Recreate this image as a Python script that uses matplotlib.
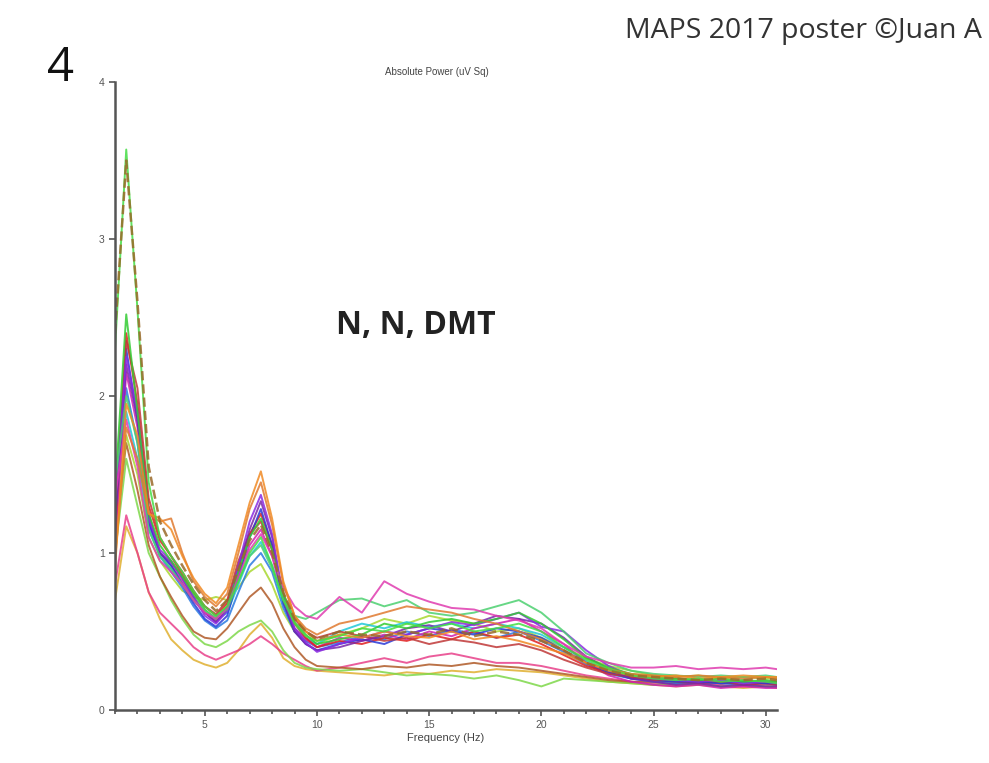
import matplotlib
matplotlib.use("Agg")
import matplotlib.pyplot as plt
from matplotlib.ticker import MultipleLocator

freq = [1, 1.5, 2, 2.5, 3, 3.5, 4, 4.5, 5, 5.5, 6, 6.5, 7, 7.5, 8, 8.5, 9, 9.5, 10,
        11, 12, 13, 14, 15, 16, 17, 18, 19, 20, 21, 22, 23, 24, 25, 26, 27, 28, 29, 30, 30.5]

s1 = [2.30, 3.57, 2.55, 1.45, 1.10, 0.98, 0.88, 0.76, 0.66, 0.60, 0.66, 0.82, 1.00, 1.10, 0.92, 0.70, 0.55, 0.47, 0.44,
      0.47, 0.52, 0.50, 0.55, 0.52, 0.55, 0.50, 0.52, 0.55, 0.50, 0.40, 0.32, 0.26, 0.22, 0.20, 0.19, 0.20, 0.18, 0.19, 0.18, 0.17]
s2 = [2.40, 3.50, 2.60, 1.55, 1.20, 1.05, 0.92, 0.80, 0.70, 0.63, 0.70, 0.90, 1.08, 1.18, 1.00, 0.75, 0.58, 0.50, 0.45,
      0.50, 0.48, 0.47, 0.50, 0.48, 0.52, 0.47, 0.50, 0.48, 0.44, 0.38, 0.30, 0.25, 0.22, 0.21, 0.20, 0.19, 0.20, 0.19, 0.20, 0.19]
s3 = [1.40, 2.52, 1.90, 1.25, 1.05, 0.95, 0.85, 0.74, 0.64, 0.58, 0.66, 0.88, 1.10, 1.22, 1.02, 0.74, 0.56, 0.48, 0.42,
      0.45, 0.48, 0.55, 0.52, 0.56, 0.58, 0.55, 0.58, 0.62, 0.55, 0.45, 0.33, 0.27, 0.23, 0.21, 0.20, 0.19, 0.20, 0.18, 0.19, 0.18]
s4 = [1.10, 2.40, 1.95, 1.30, 1.08, 0.98, 0.86, 0.75, 0.66, 0.60, 0.68, 0.92, 1.12, 1.25, 1.05, 0.72, 0.55, 0.46, 0.40,
      0.44, 0.42, 0.46, 0.44, 0.48, 0.45, 0.50, 0.46, 0.48, 0.42, 0.35, 0.28, 0.24, 0.21, 0.19, 0.18, 0.17, 0.18, 0.16, 0.17, 0.16]
s5 = [1.20, 2.30, 1.85, 1.20, 1.00, 0.92, 0.80, 0.68, 0.58, 0.53, 0.60, 0.85, 1.10, 1.28, 1.05, 0.68, 0.50, 0.42, 0.38,
      0.42, 0.45, 0.42, 0.48, 0.52, 0.50, 0.48, 0.52, 0.50, 0.46, 0.38, 0.30, 0.24, 0.20, 0.19, 0.18, 0.18, 0.17, 0.18, 0.17, 0.17]
s6 = [1.30, 2.25, 1.90, 1.22, 1.02, 0.95, 0.84, 0.72, 0.60, 0.55, 0.63, 0.92, 1.20, 1.37, 1.12, 0.72, 0.52, 0.43, 0.37,
      0.42, 0.46, 0.50, 0.48, 0.52, 0.56, 0.54, 0.58, 0.62, 0.53, 0.50, 0.38, 0.28, 0.22, 0.20, 0.19, 0.18, 0.19, 0.17, 0.18, 0.17]
s7 = [1.00, 2.15, 1.80, 1.20, 1.00, 0.92, 0.82, 0.70, 0.62, 0.56, 0.64, 0.86, 1.05, 1.15, 0.98, 0.70, 0.52, 0.45, 0.40,
      0.46, 0.44, 0.48, 0.45, 0.50, 0.47, 0.52, 0.55, 0.58, 0.50, 0.42, 0.30, 0.22, 0.18, 0.16, 0.15, 0.16, 0.14, 0.15, 0.14, 0.14]
s8 = [0.90, 1.95, 1.75, 1.25, 1.22, 1.15, 0.98, 0.84, 0.74, 0.68, 0.78, 1.05, 1.32, 1.52, 1.22, 0.82, 0.60, 0.50, 0.44,
      0.48, 0.46, 0.50, 0.47, 0.46, 0.50, 0.45, 0.47, 0.44, 0.40, 0.36, 0.30, 0.25, 0.22, 0.21, 0.22, 0.20, 0.21, 0.22, 0.21, 0.21]
s9 = [1.25, 1.90, 1.60, 1.15, 0.98, 0.90, 0.80, 0.70, 0.62, 0.57, 0.62, 0.80, 0.98, 1.07, 0.92, 0.68, 0.52, 0.46, 0.42,
      0.50, 0.55, 0.52, 0.56, 0.53, 0.55, 0.52, 0.55, 0.52, 0.48, 0.40, 0.31, 0.25, 0.21, 0.19, 0.18, 0.19, 0.18, 0.17, 0.18, 0.17]
s10 = [1.15, 2.05, 1.70, 1.18, 0.98, 0.88, 0.78, 0.66, 0.57, 0.52, 0.57, 0.75, 0.92, 1.00, 0.88, 0.65, 0.50, 0.44, 0.40,
       0.43, 0.47, 0.45, 0.50, 0.47, 0.51, 0.49, 0.46, 0.50, 0.44, 0.37, 0.29, 0.23, 0.20, 0.18, 0.17, 0.18, 0.17, 0.16, 0.17, 0.16]
s11 = [1.05, 1.75, 1.50, 1.10, 0.95, 0.85, 0.76, 0.72, 0.70, 0.72, 0.70, 0.78, 0.88, 0.93, 0.80, 0.62, 0.50, 0.44, 0.42,
       0.48, 0.52, 0.58, 0.55, 0.60, 0.57, 0.55, 0.50, 0.52, 0.46, 0.40, 0.33, 0.28, 0.25, 0.22, 0.21, 0.22, 0.20, 0.21, 0.20, 0.20]
s12 = [0.95, 1.80, 1.60, 1.25, 1.20, 1.22, 1.00, 0.82, 0.72, 0.66, 0.74, 1.00, 1.28, 1.45, 1.18, 0.80, 0.60, 0.52, 0.48,
       0.55, 0.58, 0.62, 0.66, 0.64, 0.62, 0.58, 0.55, 0.50, 0.45, 0.38, 0.30, 0.26, 0.23, 0.22, 0.21, 0.22, 0.21, 0.20, 0.21, 0.20]
s13 = [0.80, 1.24, 1.00, 0.75, 0.62, 0.55, 0.48, 0.40, 0.35, 0.32, 0.35, 0.38, 0.42, 0.47, 0.42, 0.36, 0.32, 0.28, 0.25,
       0.27, 0.30, 0.33, 0.30, 0.34, 0.36, 0.33, 0.30, 0.30, 0.28, 0.25, 0.22, 0.20, 0.18, 0.17, 0.16, 0.17, 0.16, 0.15, 0.16, 0.15]
s14 = [0.70, 1.17, 1.00, 0.75, 0.58, 0.45, 0.38, 0.32, 0.29, 0.27, 0.30, 0.38, 0.48, 0.55, 0.46, 0.33, 0.28, 0.26, 0.25,
       0.24, 0.23, 0.22, 0.24, 0.23, 0.25, 0.24, 0.26, 0.25, 0.24, 0.22, 0.20, 0.18, 0.17, 0.16, 0.15, 0.16, 0.15, 0.14, 0.15, 0.14]
s15 = [1.10, 1.70, 1.40, 1.05, 0.85, 0.72, 0.60, 0.50, 0.46, 0.45, 0.52, 0.62, 0.72, 0.78, 0.68, 0.52, 0.40, 0.32, 0.28,
       0.27, 0.26, 0.28, 0.27, 0.29, 0.28, 0.30, 0.28, 0.27, 0.25, 0.23, 0.21, 0.19, 0.18, 0.18, 0.17, 0.18, 0.17, 0.18, 0.17, 0.17]
s16 = [1.00, 1.60, 1.30, 1.00, 0.85, 0.70, 0.58, 0.48, 0.42, 0.40, 0.44, 0.50, 0.54, 0.57, 0.50, 0.38, 0.30, 0.27, 0.26,
       0.25, 0.26, 0.24, 0.22, 0.23, 0.22, 0.20, 0.22, 0.19, 0.15, 0.20, 0.19, 0.18, 0.17, 0.16, 0.17, 0.16, 0.15, 0.16, 0.15, 0.15]
s17 = [1.35, 1.85, 1.55, 1.10, 0.95, 0.88, 0.80, 0.70, 0.62, 0.58, 0.65, 0.85, 1.02, 1.12, 0.98, 0.78, 0.66, 0.60, 0.58,
       0.72, 0.62, 0.82, 0.74, 0.69, 0.65, 0.64, 0.60, 0.57, 0.52, 0.42, 0.34, 0.30, 0.27, 0.27, 0.28, 0.26, 0.27, 0.26, 0.27, 0.26]
s18 = [1.45, 2.00, 1.70, 1.15, 0.98, 0.90, 0.80, 0.70, 0.63, 0.59, 0.64, 0.82, 0.98, 1.05, 0.90, 0.70, 0.60, 0.58, 0.62,
       0.70, 0.71, 0.66, 0.70, 0.62, 0.60, 0.62, 0.66, 0.70, 0.62, 0.50, 0.36, 0.30, 0.25, 0.23, 0.22, 0.21, 0.22, 0.21, 0.22, 0.21]
s19 = [1.20, 2.20, 1.85, 1.25, 1.00, 0.94, 0.84, 0.72, 0.62, 0.56, 0.64, 0.90, 1.15, 1.33, 1.10, 0.70, 0.50, 0.42, 0.38,
       0.40, 0.44, 0.47, 0.52, 0.54, 0.50, 0.55, 0.60, 0.58, 0.55, 0.46, 0.34, 0.26, 0.20, 0.18, 0.16, 0.17, 0.15, 0.16, 0.15, 0.15]
s20 = [1.30, 2.35, 2.05, 1.35, 1.10, 0.98, 0.88, 0.76, 0.66, 0.61, 0.70, 0.95, 1.12, 1.20, 1.02, 0.74, 0.58, 0.50, 0.46,
       0.50, 0.47, 0.44, 0.46, 0.42, 0.45, 0.43, 0.40, 0.42, 0.38, 0.32, 0.27, 0.23, 0.21, 0.19, 0.20, 0.19, 0.18, 0.19, 0.18, 0.18]

series = [s14, s13, s16, s15, s11, s10, s9, s7, s4, s5, s20, s19, s6, s3, s18, s17, s12, s8, s1, s2]
colors = ["#e0b030", "#e8408a", "#7ed84a", "#b05a28", "#a8d830", "#2a7ae0", "#20c8d8", "#d020b0",
          "#e02020", "#2a3ad8", "#c03838", "#7a28a8", "#8a2be2", "#33cc33", "#4cd070", "#e03cb0",
          "#e07a30", "#f08a24", "#44dd44", "#9a6a2a"]
styles = ["-"] * 19 + ["--"]

fig = plt.figure(figsize=(9.89, 7.63), dpi=100)
ax = fig.add_axes([0.1163, 0.0695, 0.6693, 0.823])

for vals, c, ls in zip(series, colors, styles):
    lw = 1.8 if ls == "--" else 1.4
    ax.plot(freq, vals, color=c, lw=lw, ls=ls, alpha=0.85)

ax.set_xlim(1, 30.5)
ax.set_ylim(0, 4)
for sp in ["top", "right"]:
    ax.spines[sp].set_visible(False)
for sp in ["left", "bottom"]:
    ax.spines[sp].set_color("#555555")
    ax.spines[sp].set_linewidth(1.8)

ax.xaxis.set_major_locator(MultipleLocator(5))
ax.xaxis.set_minor_locator(MultipleLocator(1))
ax.yaxis.set_major_locator(MultipleLocator(1))
ax.yaxis.set_minor_locator(MultipleLocator(0.5))
ax.tick_params(which="both", direction="out", colors="#555555", labelsize=7.5, width=1.2)
ax.tick_params(which="major", length=4)
ax.tick_params(which="minor", length=3)
ax.tick_params(axis="y", which="minor", length=0)
for lab in ax.get_xticklabels() + ax.get_yticklabels():
    lab.set_fontfamily("Liberation Sans")

ax.set_xlabel("Frequency (Hz)", fontsize=8, color="#444444", family="Liberation Sans", labelpad=2)
fig.text(0.442, 0.906, "Absolute Power (uV Sq)", fontsize=7, color="#444444",
         family="Liberation Sans", ha="center", va="center")

fig.text(0.42, 0.574, "N, N, DMT", fontsize=23, fontweight="bold", family="Open Sans",
         color="#222222", ha="center", va="center")
fig.text(0.048, 0.91, "4", fontsize=34, family="Open Sans", color="#111111",
         ha="left", va="center")
fig.text(0.632, 0.96, "MAPS 2017 poster \u00a9Juan A", fontsize=20.5, family="Open Sans",
         color="#333333", ha="left", va="center")

fig.savefig("out.png", dpi=100)
